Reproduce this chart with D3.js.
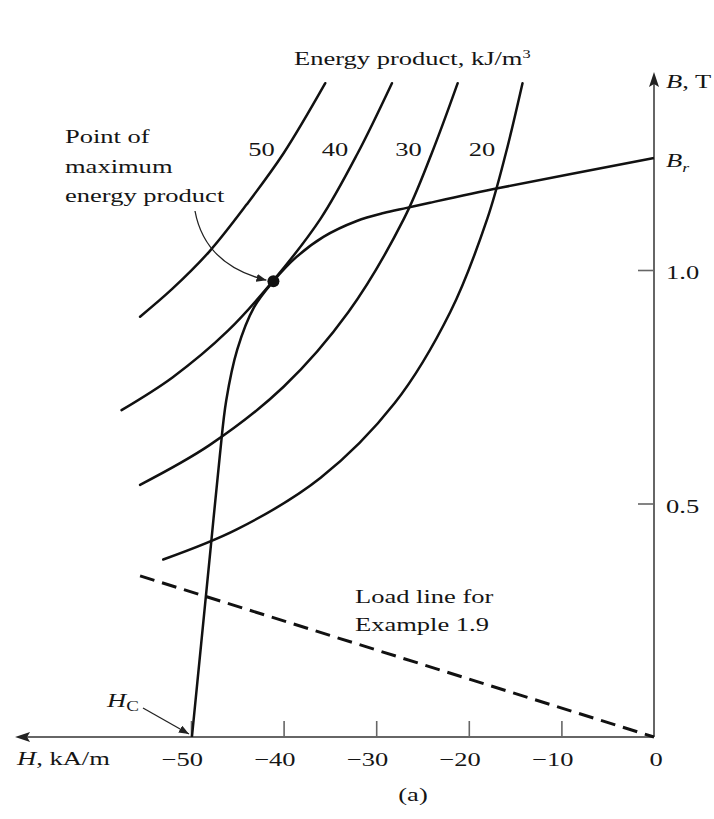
<!DOCTYPE html>
<html>
<head>
<meta charset="utf-8">
<script src="https://cdn.jsdelivr.net/npm/d3@7"></script>
<style>
  body { margin: 0; background: #fff; }
  text { font-family: 'Liberation Serif', 'Times New Roman', serif; fill: #151515; }
</style>
</head>
<body>
<div id="chart"></div>
<script>
// demagnetization curve (H in kA/m, B in T)
const demagH = [-49.9, -48.9, -47.9, -46.9, -46.2, -45.0, -43.2, -41.1, -38.6, -35.7, -32.1, -29.2, -26.7, -24.2, -16.6, 0]
const demagB = [0, 0.20, 0.40, 0.60, 0.72, 0.83, 0.92, 0.976, 1.028, 1.071, 1.105, 1.122, 1.133, 1.144, 1.176, 1.24]

// constant energy product curves, kJ/m^3
const energyLevels = [50, 40, 30, 20]
const e50 = [[-55.5, 0.90], [-52, 0.96], [-48, 1.04], [-44, 1.14], [-40, 1.25], [-35.5, 1.40]]
const e40 = [[-57.5, 0.70], [-52, 0.77], [-46, 0.87], [-41, 0.98], [-36, 1.11], [-32, 1.25], [-28.3, 1.40]]
const e30 = [[-55.5, 0.54], [-48, 0.625], [-40, 0.75], [-33, 0.91], [-27, 1.11], [-24, 1.25], [-21.2, 1.40]]
const e20 = [[-53, 0.38], [-45, 0.445], [-36, 0.555], [-28, 0.715], [-22, 0.91], [-18, 1.11], [-16, 1.25], [-14.2, 1.40]]
const energyCurves = [e50, e40, e30, e20]

const loadLine = [[-55.5, 0.345], [0, 0]]
const maxPoint = [-41.1, 0.976]
const Br = 1.24

const hTicks = [-50, -40, -30, -20, -10, 0]
const bTicks = [0.5, 1.0]
const bTickLabels = ['0.5', '1.0']

let width = 714
let height = 819
let sx = 1.36 // text in the figure is set wide
let fs = 19.5

let svg = d3
  .select('#chart')
  .append('svg')
  .attr('width', width)
  .attr('height', height)

let x = d3.scaleLinear().domain([-50, 0]).range([191, 654])
let y = d3.scaleLinear().domain([0, 1]).range([737, 270])

let defs = svg.append('defs')
defs.append('marker')
  .attr('id', 'head')
  .attr('viewBox', '0 0 10 8')
  .attr('refX', 10)
  .attr('refY', 4)
  .attr('markerWidth', 10)
  .attr('markerHeight', 8)
  .attr('markerUnits', 'userSpaceOnUse')
  .attr('orient', 'auto')
  .append('path')
  .attr('d', 'M0,0L10,4L0,8Z')
  .attr('fill', '#222')

function label(px, py, anchor) {
  return svg.append('text')
    .attr('transform', `translate(${px},${py}) scale(${sx},1)`)
    .attr('text-anchor', anchor || 'start')
    .attr('font-size', fs)
}

// axes
let axisColor = '#666'
let xLeft = x(-69)
let yTop = y(1.424)

svg.append('line')
  .attr('x1', xLeft + 12).attr('x2', x(0))
  .attr('y1', y(0)).attr('y2', y(0))
  .attr('stroke', axisColor).attr('stroke-width', 2)
svg.append('path')
  .attr('d', `M${xLeft},${y(0)}L${xLeft + 15},${y(0) - 5}L${xLeft + 12},${y(0)}L${xLeft + 15},${y(0) + 5}Z`)
  .attr('fill', '#222')

svg.append('line')
  .attr('x1', x(0)).attr('x2', x(0))
  .attr('y1', y(0)).attr('y2', yTop + 12)
  .attr('stroke', axisColor).attr('stroke-width', 2)
svg.append('path')
  .attr('d', `M${x(0)},${yTop}L${x(0) - 5},${yTop + 15}L${x(0)},${yTop + 12}L${x(0) + 5},${yTop + 15}Z`)
  .attr('fill', '#222')

let xAxis = d3.axisBottom(x)
  .tickValues(hTicks.filter(d => d < 0))
  .tickSize(-16)
  .tickFormat('')
svg.append('g')
  .attr('transform', `translate(0,${y(0)})`)
  .call(xAxis)
  .call(g => g.select('.domain').remove())
  .call(g => g.selectAll('line').attr('stroke', axisColor).attr('stroke-width', 1.6))

let yAxis = d3.axisRight(y)
  .tickValues(bTicks)
  .tickSize(-16)
  .tickFormat('')
svg.append('g')
  .attr('transform', `translate(${x(0)},0)`)
  .call(yAxis)
  .call(g => g.select('.domain').remove())
  .call(g => g.selectAll('line').attr('stroke', axisColor).attr('stroke-width', 1.6))

// tick labels
hTicks.forEach(h => {
  if (h < 0) {
    label(x(h) + 12, 766, 'end').text('\u2212' + Math.abs(h))
  } else {
    label(x(h) + 2, 766, 'middle').text(String(h))
  }
})
bTicks.forEach((b, i) => {
  label(x(0) + 12, y(b) + 9).text(bTickLabels[i])
})

label(17, 765).call(t => {
  t.append('tspan').attr('font-style', 'italic').text('H')
  t.append('tspan').text(', kA/m')
})
label(x(0) + 12, yTop + 16).call(t => {
  t.append('tspan').attr('font-style', 'italic').text('B')
  t.append('tspan').text(', T')
})
label(x(0) + 12, y(Br) + 9).call(t => {
  t.append('tspan').attr('font-style', 'italic').text('B')
  t.append('tspan').attr('font-style', 'italic').attr('font-size', 13).attr('dy', 5).text('r')
})

// curves
let line = d3.line()
  .x(d => x(d[0]))
  .y(d => y(d[1]))
  .curve(d3.curveCatmullRom.alpha(0.5))

energyCurves.forEach((pts, i) => {
  svg.append('path')
    .attr('d', line(pts))
    .attr('fill', 'none')
    .attr('stroke', '#111')
    .attr('stroke-width', 2.5)
    .attr('stroke-linecap', 'round')

  // label sits to the left of the curve near its top
  let hAt = d3.scaleLinear().domain(pts.map(d => d[1])).range(pts.map(d => d[0]))
  label(x(hAt(1.26)) - 25, y(1.26) + 7, 'middle').text(energyLevels[i])
})

let demag = demagH.map((h, i) => [h, demagB[i]])
svg.append('path')
  .attr('d', line(demag))
  .attr('fill', 'none')
  .attr('stroke', '#111')
  .attr('stroke-width', 2.5)

svg.append('path')
  .attr('d', d3.line().x(d => x(d[0])).y(d => y(d[1]))(loadLine))
  .attr('fill', 'none')
  .attr('stroke', '#111')
  .attr('stroke-width', 3)
  .attr('stroke-dasharray', '15,8')

svg.append('circle')
  .attr('cx', x(maxPoint[0]))
  .attr('cy', y(maxPoint[1]))
  .attr('r', 6)
  .attr('fill', '#111')

// annotations
label(294, 65).call(t => {
  t.append('tspan').text('Energy product, kJ/m')
  t.append('tspan').attr('font-size', 12).attr('dy', -7).text('3')
})

label(65, 143).text('Point of')
label(65, 173).text('maximum')
label(65, 202).text('energy product')

let mx = x(maxPoint[0]) - 7
let my = y(maxPoint[1]) - 1
svg.append('path')
  .attr('d', `M195,211Q205,265 ${mx},${my}`)
  .attr('fill', 'none')
  .attr('stroke', '#222')
  .attr('stroke-width', 1.3)
  .attr('marker-end', 'url(#head)')

label(355, 603).text('Load line for')
label(355, 631).text('Example 1.9')

label(107, 707).call(t => {
  t.append('tspan').attr('font-style', 'italic').text('H')
  t.append('tspan').attr('font-size', 14).attr('dy', 4).text('C')
})
svg.append('line')
  .attr('x1', 143).attr('y1', 708)
  .attr('x2', x(-49.9) - 3).attr('y2', y(0) - 3)
  .attr('stroke', '#222')
  .attr('stroke-width', 1.3)
  .attr('marker-end', 'url(#head)')

label(413, 801, 'middle').text('(a)')
</script>
</body>
</html>
